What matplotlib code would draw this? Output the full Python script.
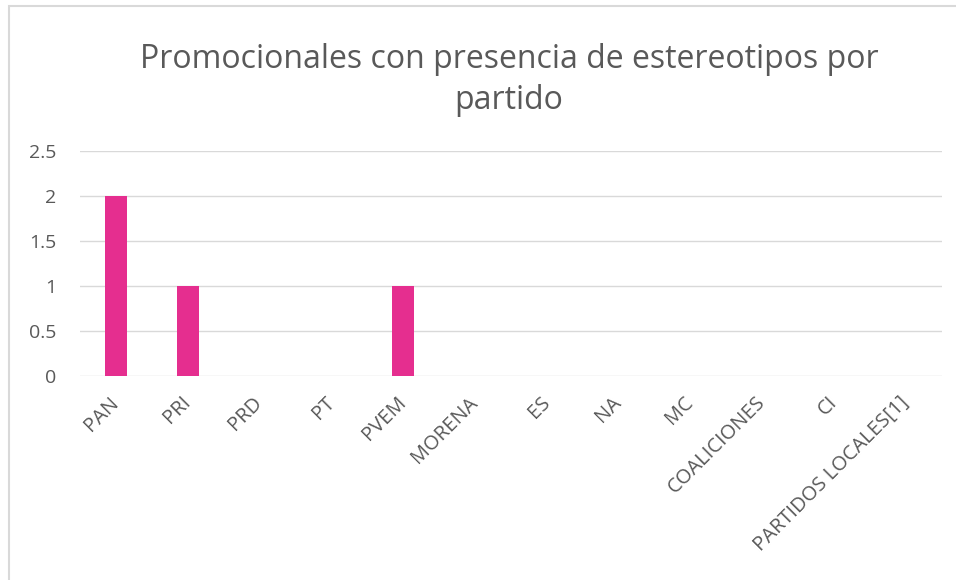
import matplotlib
matplotlib.use("Agg")
from matplotlib import pyplot as plt
from matplotlib.patches import Rectangle

# data
partidos = ["PAN", "PRI", "PRD", "PT", "PVEM", "MORENA", "ES", "NA", "MC",
            "COALICIONES", "CI", "PARTIDOS LOCALES[1]"]
promocionales = [2, 1, 0, 0, 1, 0, 0, 0, 0, 0, 0, 0]
yticks = [0, 0.5, 1, 1.5, 2, 2.5]
ytick_labels = ["0", "0.5", "1", "1.5", "2", "2.5"]

W, H = 956, 580
gray = "#595959"
pink = "#E52E8F"

plt.rcParams["font.family"] = ["Open Sans", "DejaVu Sans"]

fig = plt.figure(figsize=(W / 100, H / 100), dpi=100)
fig.patch.set_facecolor("white")

# chart frame (cut by the image at right and bottom)
fig.patches.append(Rectangle((9 / W, -0.1), 1.2, (H - 6) / H + 0.1,
                             transform=fig.transFigure, fill=False,
                             edgecolor="#D9D9D9", linewidth=1.5))

ax = fig.add_axes([80 / W, (H - 376) / H, 862 / W, (376 - 151) / H])
x = range(len(partidos))
ax.bar(x, promocionales, width=0.3, color=pink, zorder=3)

ax.set_xlim(-0.5, len(partidos) - 0.5)
ax.set_ylim(0, 2.5)
ax.set_yticks(yticks)
ax.set_yticklabels(ytick_labels)
ax.set_xticks(list(x))
ax.set_xticklabels(partidos, rotation=45, ha="right", va="center",
                   rotation_mode="anchor")

ax.grid(axis="y", color="#D9D9D9", linewidth=1)
ax.set_axisbelow(True)
for s in ax.spines.values():
    s.set_visible(False)
ax.tick_params(axis="both", length=0, colors=gray)
ax.tick_params(axis="y", pad=17, labelsize=14)
ax.tick_params(axis="x", pad=17, labelsize=14.5)

fig.text(509 / W, 1 - 80 / H, "Promocionales con presencia de estereotipos por\npartido",
         ha="center", va="center", fontsize=23, color=gray, linespacing=1.3)

fig.savefig("out.png", dpi=100)
